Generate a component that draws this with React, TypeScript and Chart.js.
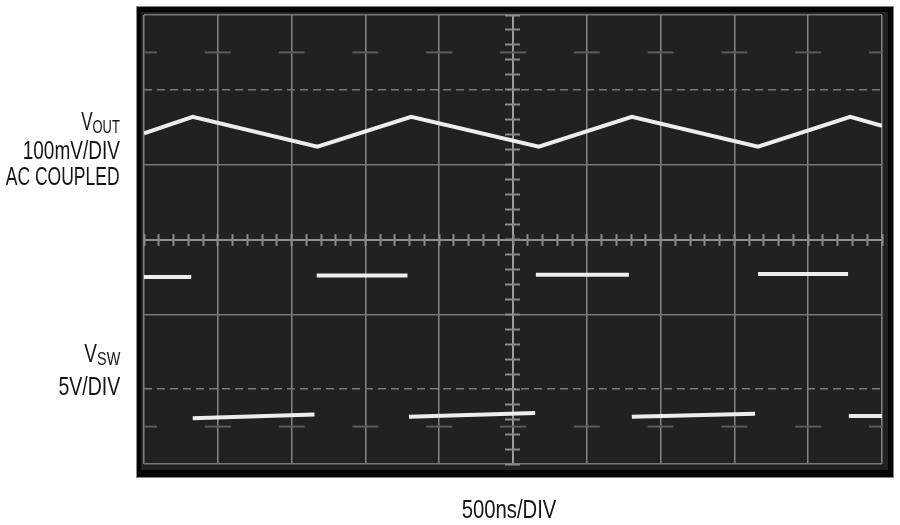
import React, { useEffect, useRef } from "react";
import { Chart, registerables } from "chart.js";

Chart.register(...registerables);

// Horizontal axis: 10 divisions (500ns/DIV); vertical axis: 6 divisions, centred at 0
const xDivisions = [0, 10];
const yDivisions = [-3, 3];
const dashedLevels = [2, -2];

// VOUT triangle ripple (divisions)
const voutX = [0, 0.66, 2.35, 3.62, 5.35, 6.61, 8.32, 9.57, 10];
const voutY = [1.42, 1.64, 1.24, 1.64, 1.24, 1.64, 1.24, 1.64, 1.52];

// VSW switch node: flat segments (edges are too fast to show)
const vswStartX = [0, 0.66, 2.34, 3.59, 5.31, 6.61, 8.32, 9.55];
const vswEndX = [0.64, 2.31, 3.57, 5.3, 6.57, 8.28, 9.54, 10];
const vswStartY = [-0.5, -2.39, -0.48, -2.37, -0.47, -2.37, -0.46, -2.36];
const vswEndY = [-0.5, -2.34, -0.48, -2.32, -0.47, -2.33, -0.46, -2.36];

// faint graticule "+" marks
const markX = [0, 1, 2, 3, 4, 5, 6, 7, 8, 9, 10];
const markY = [2.5, -2.5];

const framePlugin = {
  id: "scopeFrame",
  beforeDraw(chart: any) {
    const { ctx, chartArea: a } = chart;
    ctx.save();
    ctx.fillStyle = "#050505";
    ctx.fillRect(a.left - 7, a.top - 8, a.right - a.left + 18, a.bottom - a.top + 21);
    ctx.strokeStyle = "#8a8a8a";
    ctx.lineWidth = 1;
    ctx.strokeRect(a.left - 7.5, a.top - 8.5, a.right - a.left + 19, a.bottom - a.top + 22);
    ctx.fillStyle = "#212121";
    ctx.fillRect(a.left - 3, a.top - 3, a.right - a.left + 9, a.bottom - a.top + 9);
    ctx.restore();
  },
};

function ScopeChart() {
  const ref = useRef<HTMLCanvasElement | null>(null);
  useEffect(() => {
    if (!ref.current) return;
    const vout = voutX.map((x, i) => ({ x, y: voutY[i] }));
    const vsw: { x: number; y: number | null }[] = [];
    vswStartX.forEach((x, i) => {
      if (i > 0) vsw.push({ x: (vswEndX[i - 1] + x) / 2, y: null });
      vsw.push({ x, y: vswStartY[i] });
      vsw.push({ x: vswEndX[i], y: vswEndY[i] });
    });
    const marks: { x: number; y: number }[] = [];
    markY.forEach((y) => markX.forEach((x) => marks.push({ x, y })));

    const chart = new Chart(ref.current, {
      type: "line",
      data: {
        datasets: [
          {
            data: vout,
            borderColor: "#ededed",
            borderWidth: 4,
            pointRadius: 0,
            tension: 0,
          },
          {
            data: vsw as any,
            borderColor: "#ededed",
            borderWidth: 4,
            pointRadius: 0,
            spanGaps: false,
            tension: 0,
          },
          {
            data: marks,
            showLine: false,
            pointStyle: "line",
            pointRadius: 13,
            pointBorderWidth: 2,
            pointBorderColor: "#5c5c5c",
            borderColor: "#5c5c5c",
          },
        ],
      },
      options: {
        animation: false,
        responsive: false,
        devicePixelRatio: 1,
        layout: { padding: { left: 144, right: 18, top: 15, bottom: 61 } },
        plugins: { legend: { display: false }, tooltip: { enabled: false } },
        events: [],
        scales: {
          x: {
            type: "linear",
            min: xDivisions[0],
            max: xDivisions[1],
            ticks: { display: false, stepSize: 1 },
            grid: {
              drawTicks: false,
              color: (c: any) => (c.tick && c.tick.value === 5 ? "#9c9c9c" : "#858585"),
              lineWidth: (c: any) => (c.tick && c.tick.value === 5 ? 2 : 1.5),
            },
            border: { display: false },
          },
          y: {
            type: "linear",
            min: yDivisions[0],
            max: yDivisions[1],
            ticks: { display: false, stepSize: 1 },
            grid: {
              drawTicks: false,
              color: (c: any) =>
                c.tick && dashedLevels.includes(c.tick.value) ? "#7a7a7a" : c.tick && c.tick.value === 0 ? "#8f8f8f" : "#777777",
              lineWidth: (c: any) => (c.tick && c.tick.value === 0 ? 2 : 1.5),
            },
            border: {
              display: false,
              dash: (c: any) => (c.tick && dashedLevels.includes(c.tick.value) ? [8, 5] : []),
            },
          },
          xMinor: {
            type: "linear",
            axis: "x",
            position: { y: 0.08 },
            min: xDivisions[0],
            max: xDivisions[1],
            ticks: { display: false, stepSize: 0.2 },
            grid: { drawOnChartArea: false, drawTicks: true, tickLength: 12, tickColor: "#8a8a8a", tickWidth: 2 },
            border: { display: false },
          },
          yMinor: {
            type: "linear",
            axis: "y",
            position: { x: 5.1 },
            min: yDivisions[0],
            max: yDivisions[1],
            ticks: { display: false, stepSize: 0.2 },
            grid: { drawOnChartArea: false, drawTicks: true, tickLength: 15, tickColor: "#8a8a8a", tickWidth: 2 },
            border: { display: false },
          },
        } as any,
      },
      plugins: [framePlugin],
    });
    return () => chart.destroy();
  }, []);
  return (
    <canvas
      ref={ref}
      width={900}
      height={525}
      style={{ position: "absolute", left: 0, top: 0, width: 900, height: 525 }}
    />
  );
}

const textFont = "'Liberation Sans', Arial, sans-serif";

function Label({
  baseline,
  right,
  center,
  size,
  squeeze,
  children,
}: {
  baseline: number;
  right?: number;
  center?: number;
  size: number;
  squeeze: number;
  children: React.ReactNode;
}) {
  const style: React.CSSProperties = {
    position: "absolute",
    top: baseline - 0.8465 * size,
    fontFamily: textFont,
    fontSize: size,
    lineHeight: `${size}px`,
    color: "#141414",
    whiteSpace: "nowrap",
    transform: `scaleX(${squeeze})`,
  };
  if (right !== undefined) {
    style.right = 900 - right;
    style.textAlign = "right";
    style.transformOrigin = "right center";
  } else if (center !== undefined) {
    style.left = center - 200;
    style.width = 400;
    style.textAlign = "center";
    style.transformOrigin = "center center";
  }
  return <div style={style}>{children}</div>;
}

export default function App() {
  const sub: React.CSSProperties = { fontSize: 19, verticalAlign: "-3px" };
  return (
    <div style={{ position: "absolute", left: 0, top: 0, width: 900, height: 525, background: "#ffffff", overflow: "hidden" }}>
      <ScopeChart />
      <Label baseline={130} right={120} size={25} squeeze={0.68}>
        V<span style={sub}>OUT</span>
      </Label>
      <Label baseline={159.5} right={120} size={25} squeeze={0.76}>
        100mV/DIV
      </Label>
      <Label baseline={185.5} right={120} size={25} squeeze={0.7}>
        AC COUPLED
      </Label>
      <Label baseline={362} right={120} size={25} squeeze={0.76}>
        V<span style={sub}>SW</span>
      </Label>
      <Label baseline={395} right={120} size={25} squeeze={0.78}>
        5V/DIV
      </Label>
      <Label baseline={518} center={509} size={26} squeeze={0.78}>
        500ns/DIV
      </Label>
    </div>
  );
}
